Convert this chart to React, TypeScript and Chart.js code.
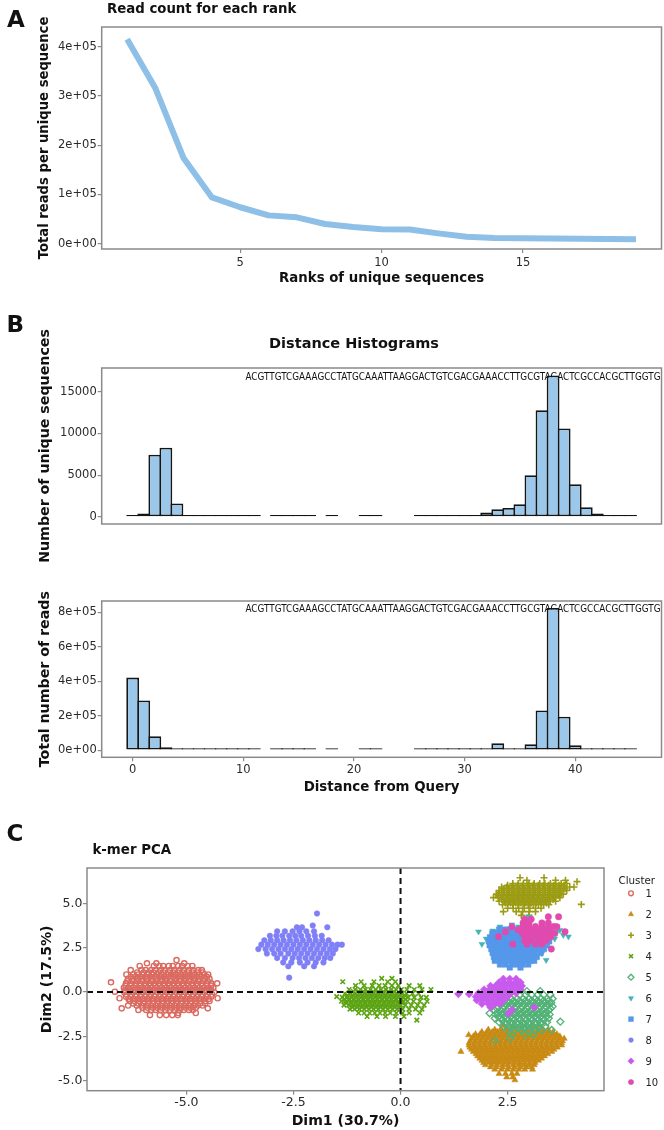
import React, { useEffect, useRef } from 'react';
import { Chart, registerables } from 'chart.js';
import { drawPoint } from 'chart.js/helpers';

Chart.register(...registerables);

const FONT = "'DejaVu Sans', Verdana, sans-serif";

// ---------------- Panel A data ----------------
const ranks = [1, 2, 3, 4, 5, 6, 7, 8, 9, 10, 11, 12, 13, 14, 15, 16, 17, 18, 19];
const readsPerRank = [415000, 315500, 173500, 94000, 74000, 57500, 53500, 40000, 34000, 29500, 29000, 21000, 14000, 11500, 11000, 10500, 10000, 9500, 9000];
const rankTicks = [5, 10, 15];
const readTickValues = [0, 100000, 200000, 300000, 400000];
const readTickLabels = ['0e+00', '1e+05', '2e+05', '3e+05', '4e+05'];

// ---------------- Panel B data ----------------
const distanceBins = [0, 1, 2, 3, 4, 5, 6, 7, 8, 9, 10, 11, 12, 13, 14, 15, 16, 17, 18, 19, 20, 21, 22, 23, 24, 25, 26, 27, 28, 29, 30, 31, 32, 33, 34, 35, 36, 37, 38, 39, 40, 41, 42, 43, 44, 45];
const uniqueSeqCounts: (number | null)[] = [
  1, 400, 7450, 8300, 1600, 200, 60, 30, 20, 10, 8, 5,
  null, 3, 2, 2, 1, null, 1, null, null, 1, 1, null, null, null,
  5, 10, 20, 40, 80, 200, 520, 920, 1080, 1520, 5000, 12800, 16950, 10600, 3920, 1160, 400, 150, 50, 20,
];
const totalReadCounts: (number | null)[] = [
  421000, 289000, 81000, 17000, 4000, 1500, 800, 500, 400, 300, 200, 100,
  null, 100, 100, 100, 100, null, 50, null, null, 50, 50, null, null, null,
  100, 200, 300, 500, 1000, 2000, 3000, 40000, 9000, 2500, 35000, 231000, 825000, 194000, 29000, 6000, 2000, 1000, 500, 300,
];
const distanceTicks = [0, 10, 20, 30, 40];
const uniqueTicks = [0, 5000, 10000, 15000];
const uniqueTickLabels = ['0', '5000', '10000', '15000'];
const readsTicks = [0, 200000, 400000, 600000, 800000];
const readsTickLabels = ['0e+00', '2e+05', '4e+05', '6e+05', '8e+05'];
const querySequence = 'ACGTTGTCGAAAGCCTATGCAAATTAAGGACTGTCGACGAAACCTTGCGTAGACTCGCCACGCTTGGTG';

// ---------------- Panel C data (rows: [Dim2, [Dim1 values]]) ----------------
type Rows = [number, number[]][];
const cluster1Rows: Rows = [
  [1.8, [-5.23]],
  [1.62, [-5.92, -5.7, -5.05]],
  [1.47, [-6.09, -5.76, -5.63, -5.54, -5.41, -5.32, -5.19, -5.1, -4.97, -4.86]],
  [1.24, [-6.3, -6.05, -5.95, -5.82, -5.73, -5.6, -5.51, -5.38, -5.29, -5.16, -5.07, -4.94, -4.85, -4.72, -4.64]],
  [1.1, [-6.15, -6.0, -5.88, -5.77, -5.64, -5.53, -5.42, -5.3, -5.2, -5.08, -4.97, -4.86, -4.75, -4.62]],
  [0.99, [-6.4, -6.24, -6.12, -6.03, -5.9, -5.81, -5.68, -5.59, -5.47, -5.35, -5.26, -5.13, -5.04, -4.91, -4.82, -4.69, -4.58, -4.49]],
  [0.86, [-6.3, -6.18, -6.07, -5.96, -5.85, -5.74, -5.62, -5.52, -5.41, -5.3, -5.19, -5.08, -4.97, -4.86, -4.75, -4.64, -4.52]],
  [0.74, [-6.36, -6.25, -6.13, -6.02, -5.92, -5.79, -5.7, -5.57, -5.48, -5.36, -5.24, -5.15, -5.02, -4.93, -4.8, -4.71, -4.58, -4.46]],
  [0.61, [-6.38, -6.26, -6.15, -6.04, -5.92, -5.82, -5.7, -5.6, -5.48, -5.38, -5.26, -5.16, -5.04, -4.94, -4.82, -4.72, -4.6, -4.5]],
  [0.55, [-6.76]],
  [0.49, [-6.41, -6.31, -6.18, -6.09, -5.96, -5.87, -5.74, -5.65, -5.52, -5.43, -5.3, -5.21, -5.08, -4.99, -4.86, -4.77, -4.64, -4.53, -4.42, -4.28]],
  [0.36, [-6.42, -6.29, -6.18, -6.07, -5.95, -5.84, -5.73, -5.62, -5.51, -5.4, -5.29, -5.18, -5.07, -4.96, -4.85, -4.74, -4.63, -4.52, -4.42]],
  [0.24, [-6.46, -6.35, -6.23, -6.13, -6.01, -5.91, -5.79, -5.69, -5.57, -5.47, -5.35, -5.25, -5.13, -5.03, -4.91, -4.81, -4.69, -4.59, -4.47, -4.37]],
  [0.11, [-6.43, -6.3, -6.19, -6.08, -5.96, -5.85, -5.74, -5.63, -5.52, -5.41, -5.3, -5.19, -5.08, -4.97, -4.86, -4.75, -4.64, -4.53, -4.42]],
  [0.02, [-6.67]],
  [-0.01, [-6.45, -6.33, -6.24, -6.11, -6.02, -5.89, -5.8, -5.67, -5.58, -5.45, -5.36, -5.23, -5.14, -5.01, -4.92, -4.79, -4.7, -4.57, -4.46, -4.35]],
  [-0.14, [-6.4, -6.28, -6.17, -6.06, -5.94, -5.83, -5.72, -5.61, -5.5, -5.39, -5.28, -5.17, -5.06, -4.95, -4.84, -4.73, -4.62, -4.51, -4.4]],
  [-0.26, [-6.41, -6.3, -6.18, -6.08, -5.96, -5.86, -5.74, -5.64, -5.52, -5.42, -5.3, -5.2, -5.08, -4.98, -4.86, -4.76, -4.64, -4.54, -4.42]],
  [-0.35, [-6.56, -4.27]],
  [-0.39, [-6.35, -6.24, -6.13, -6.02, -5.9, -5.8, -5.68, -5.58, -5.46, -5.36, -5.24, -5.14, -5.02, -4.92, -4.8, -4.7, -4.58, -4.48]],
  [-0.51, [-6.32, -6.21, -6.1, -5.99, -5.88, -5.77, -5.66, -5.55, -5.44, -5.33, -5.22, -5.11, -5.0, -4.89, -4.78, -4.67, -4.56, -4.46]],
  [-0.64, [-6.24, -6.12, -6.0, -5.89, -5.78, -5.67, -5.56, -5.45, -5.34, -5.23, -5.12, -5.01, -4.9, -4.79, -4.68, -4.56]],
  [-0.76, [-6.36, -6.16, -6.05, -5.93, -5.83, -5.71, -5.61, -5.49, -5.39, -5.27, -5.17, -5.05, -4.95, -4.83, -4.73, -4.62]],
  [-0.89, [-6.02, -5.9, -5.78, -5.67, -5.56, -5.45, -5.34, -5.23, -5.12, -5.01, -4.9, -4.78]],
  [-0.92, [-6.51, -4.5]],
  [-1.01, [-6.12, -5.94, -5.82, -5.72, -5.6, -5.5, -5.38, -5.28, -5.16, -5.06, -4.94, -4.85]],
  [-1.18, [-5.19, -4.78]],
  [-1.3, [-5.85, -5.62, -5.47, -5.33, -5.2]],
];
const cluster2Rows: Rows = [
  [-1.9, [2.4, 2.62, 2.85, 3.05, 3.22]],
  [-2.12, [2.05, 2.2, 2.33, 2.45, 2.58, 2.7, 2.83, 2.95, 3.08, 3.2, 3.33, 3.45]],
  [-2.25, [1.9, 2.02, 2.14, 2.26, 2.38, 2.5, 2.62, 2.74, 2.86, 2.98, 3.1, 3.22, 3.34, 3.46, 3.56]],
  [-2.37, [1.75, 1.86, 1.98, 2.1, 2.22, 2.34, 2.46, 2.58, 2.7, 2.82, 2.94, 3.06, 3.18, 3.3, 3.42, 3.54, 3.65]],
  [-2.42, [1.59]],
  [-2.5, [1.7, 1.82, 1.94, 2.06, 2.18, 2.3, 2.42, 2.54, 2.66, 2.78, 2.9, 3.02, 3.14, 3.26, 3.38, 3.5, 3.62, 3.72]],
  [-2.62, [1.66, 1.78, 1.9, 2.02, 2.14, 2.26, 2.38, 2.5, 2.62, 2.74, 2.86, 2.98, 3.1, 3.22, 3.34, 3.46, 3.58, 3.7, 3.82]],
  [-2.75, [1.63, 1.75, 1.87, 1.99, 2.11, 2.23, 2.35, 2.47, 2.59, 2.71, 2.83, 2.95, 3.07, 3.19, 3.31, 3.43, 3.55, 3.67, 3.78]],
  [-2.87, [1.6, 1.72, 1.84, 1.96, 2.08, 2.2, 2.32, 2.44, 2.56, 2.68, 2.8, 2.92, 3.04, 3.16, 3.28, 3.4, 3.52, 3.64, 3.76]],
  [-3.0, [1.6, 1.72, 1.84, 1.96, 2.08, 2.2, 2.32, 2.44, 2.56, 2.68, 2.8, 2.92, 3.04, 3.16, 3.28, 3.4, 3.52, 3.64, 3.76]],
  [-3.12, [1.62, 1.74, 1.86, 1.98, 2.1, 2.22, 2.34, 2.46, 2.58, 2.7, 2.82, 2.94, 3.06, 3.18, 3.3, 3.42, 3.54, 3.66]],
  [-3.24, [1.66, 1.78, 1.9, 2.02, 2.14, 2.26, 2.38, 2.5, 2.62, 2.74, 2.86, 2.98, 3.1, 3.22, 3.34, 3.46, 3.58]],
  [-3.36, [1.41, 1.7, 1.82, 1.94, 2.06, 2.18, 2.3, 2.42, 2.54, 2.66, 2.78, 2.9, 3.02, 3.14, 3.26, 3.38, 3.53]],
  [-3.49, [1.76, 1.88, 2.0, 2.12, 2.24, 2.36, 2.48, 2.6, 2.72, 2.84, 2.96, 3.08, 3.2, 3.32, 3.44]],
  [-3.61, [1.8, 1.92, 2.04, 2.16, 2.28, 2.4, 2.52, 2.64, 2.76, 2.88, 3.0, 3.12, 3.24, 3.36]],
  [-3.74, [1.85, 1.97, 2.09, 2.21, 2.33, 2.45, 2.57, 2.69, 2.81, 2.93, 3.05, 3.17, 3.29]],
  [-3.86, [1.9, 2.02, 2.14, 2.26, 2.38, 2.5, 2.62, 2.74, 2.86, 2.98, 3.1, 3.22]],
  [-3.98, [1.94, 2.06, 2.18, 2.3, 2.42, 2.54, 2.66, 2.78, 2.9, 3.02, 3.14]],
  [-4.11, [1.98, 2.12, 2.25, 2.38, 2.5, 2.63, 2.76, 2.88, 3.0, 3.12]],
  [-4.23, [2.1, 2.24, 2.38, 2.52, 2.66, 2.8, 2.94, 3.06]],
  [-4.36, [2.2, 2.36, 2.5, 2.63, 2.76, 2.9, 3.08]],
  [-4.6, [2.3, 2.45, 2.6, 2.72]],
  [-4.8, [2.48, 2.62]],
  [-4.96, [2.67]],
];
const cluster3Rows: Rows = [
  [6.44, [2.79, 3.35]],
  [6.3, [2.95, 3.62, 3.85]],
  [6.22, [4.12]],
  [6.12, [2.62, 2.75, 2.87, 3.0, 3.12, 3.25, 3.37, 3.5, 3.62, 3.75, 3.88]],
  [6.02, [2.5, 2.62, 2.74, 2.86, 2.98, 3.1, 3.22, 3.34, 3.46, 3.58, 3.7, 3.82]],
  [5.92, [2.36, 2.48, 2.6, 2.72, 2.84, 2.96, 3.08, 3.2, 3.32, 3.44, 3.56, 3.68, 3.8, 3.95, 4.05]],
  [5.82, [2.4, 2.52, 2.64, 2.76, 2.88, 3.0, 3.12, 3.24, 3.36, 3.48, 3.6, 3.72, 3.84]],
  [5.72, [2.3, 2.42, 2.54, 2.66, 2.78, 2.9, 3.02, 3.14, 3.26, 3.38, 3.5, 3.62, 3.74, 3.88]],
  [5.62, [2.3, 2.42, 2.54, 2.66, 2.78, 2.9, 3.02, 3.14, 3.26, 3.38, 3.5, 3.62, 3.74]],
  [5.52, [2.24, 2.36, 2.48, 2.6, 2.72, 2.84, 2.96, 3.08, 3.2, 3.32, 3.44, 3.56, 3.68, 3.8]],
  [5.42, [2.28, 2.4, 2.52, 2.64, 2.76, 2.88, 3.0, 3.12, 3.24, 3.36, 3.48, 3.6, 3.7]],
  [5.32, [2.17, 2.28, 2.4, 2.52, 2.64, 2.76, 2.88, 3.0, 3.12, 3.24, 3.36, 3.48, 3.6, 3.72]],
  [5.22, [2.36, 2.48, 2.6, 2.72, 2.84, 2.96, 3.08, 3.2, 3.32, 3.44, 3.56]],
  [5.12, [2.3, 2.42, 2.54, 2.66, 2.78, 2.9, 3.02, 3.14, 3.26, 3.38, 3.5, 3.62]],
  [5.02, [2.45, 2.57, 2.69, 2.81, 2.93, 3.05, 3.17, 3.29, 3.41]],
  [4.94, [4.22]],
  [4.92, [2.38, 2.5, 2.62, 2.74, 2.86, 2.98, 3.1, 3.22, 3.34, 3.46]],
  [4.72, [2.5, 2.63, 2.76, 2.89, 3.02, 3.15, 3.28]],
  [4.53, [2.4, 2.7, 2.85, 3.0, 3.15]],
  [4.32, [2.82, 3.0]],
];
const cluster4Rows: Rows = [
  [0.77, [-0.44, -0.2]],
  [0.58, [-1.35, -0.92, -0.62, -0.3, -0.12]],
  [0.36, [-1.05, -0.85, -0.66, -0.5, -0.36, -0.2, -0.05, 0.2, 0.45]],
  [0.14, [-1.2, -1.06, -0.94, -0.82, -0.7, -0.58, -0.46, -0.34, -0.22, -0.1, 0.02, 0.15, 0.32, 0.5, 0.71]],
  [0.03, [-1.1, -0.98, -0.87, -0.76, -0.64, -0.52, -0.4, -0.28, -0.16]],
  [-0.08, [-1.3, -1.18, -1.07, -0.96, -0.85, -0.74, -0.63, -0.52, -0.41, -0.3, -0.19, -0.08, 0.03, 0.14, 0.28, 0.42]],
  [-0.19, [-1.24, -1.12, -1.01, -0.9, -0.79, -0.68, -0.57, -0.46, -0.35, -0.24, -0.13, -0.02, 0.1]],
  [-0.26, [-1.49]],
  [-0.3, [-1.36, -1.25, -1.14, -1.03, -0.92, -0.81, -0.7, -0.59, -0.48, -0.37, -0.26, -0.15, -0.04, 0.07, 0.18, 0.32, 0.48, 0.6]],
  [-0.41, [-1.3, -1.19, -1.08, -0.97, -0.86, -0.75, -0.64, -0.53, -0.42, -0.31, -0.2, -0.09, 0.02, 0.12]],
  [-0.52, [-1.38, -1.27, -1.16, -1.05, -0.94, -0.83, -0.72, -0.61, -0.5, -0.39, -0.28, -0.17, -0.06, 0.05, 0.16, 0.3, 0.45, 0.62]],
  [-0.63, [-1.27, -1.16, -1.05, -0.94, -0.83, -0.72, -0.61, -0.5, -0.39, -0.28, -0.17, -0.06, 0.05]],
  [-0.74, [-1.32, -1.21, -1.1, -0.99, -0.88, -0.77, -0.66, -0.55, -0.44, -0.33, -0.22, -0.11, 0.0, 0.11, 0.25, 0.4, 0.55]],
  [-0.85, [-1.12, -1.01, -0.9, -0.79, -0.68, -0.57, -0.46, -0.35, -0.24, -0.13, -0.02]],
  [-0.96, [-1.18, -1.07, -0.96, -0.85, -0.74, -0.63, -0.52, -0.41, -0.3, -0.19, -0.08, 0.05, 0.2, 0.35, 0.5]],
  [-1.18, [-0.98, -0.85, -0.72, -0.6, -0.48, -0.36, -0.24, -0.1, 0.05, 0.2, 0.45]],
  [-1.38, [-0.78, -0.55, -0.35, -0.12, 0.08]],
  [-1.58, [0.38]],
];
const cluster5Rows: Rows = [
  [0.05, [2.95, 3.26]],
  [-0.16, [2.78, 2.92, 3.06, 3.2, 3.34, 3.5]],
  [-0.38, [2.58, 2.72, 2.86, 3.0, 3.14, 3.28, 3.42, 3.55]],
  [-0.49, [2.5, 2.64, 2.78, 2.92, 3.06, 3.2, 3.34, 3.46]],
  [-0.6, [2.4, 2.54, 2.68, 2.82, 2.96, 3.1, 3.24, 3.38, 3.52]],
  [-0.71, [2.34, 2.48, 2.62, 2.76, 2.9, 3.04, 3.18, 3.32, 3.46]],
  [-0.82, [2.28, 2.42, 2.56, 2.7, 2.84, 2.98, 3.12, 3.26, 3.4, 3.55]],
  [-0.93, [2.25, 2.39, 2.53, 2.67, 2.81, 2.95, 3.09, 3.23, 3.37, 3.5]],
  [-1.04, [2.2, 2.34, 2.48, 2.62, 2.76, 2.9, 3.04, 3.18, 3.32, 3.46]],
  [-1.15, [2.27, 2.41, 2.55, 2.69, 2.83, 2.97, 3.11, 3.25, 3.39]],
  [-1.2, [2.08]],
  [-1.26, [2.22, 2.36, 2.5, 2.64, 2.78, 2.92, 3.06, 3.2, 3.34, 3.48]],
  [-1.37, [2.29, 2.43, 2.57, 2.71, 2.85, 2.99, 3.13, 3.27, 3.41]],
  [-1.48, [2.2, 2.34, 2.48, 2.62, 2.76, 2.9, 3.04, 3.18, 3.32, 3.46]],
  [-1.59, [2.37, 2.51, 2.65, 2.79, 2.93, 3.07, 3.21, 3.35]],
  [-1.67, [3.73]],
  [-1.7, [2.3, 2.44, 2.58, 2.72, 2.86, 3.0, 3.14, 3.28, 3.42]],
  [-1.81, [2.47, 2.61, 2.75, 2.89, 3.03, 3.17, 3.31]],
  [-1.92, [2.4, 2.54, 2.68, 2.82, 2.96, 3.1, 3.24, 3.38]],
  [-2.03, [2.58, 2.74, 2.9, 3.06, 3.22]],
  [-2.14, [2.5, 2.66, 2.82, 2.98, 3.14, 3.3, 3.53]],
  [-2.4, [2.6, 2.91, 3.1]],
  [-2.61, [2.56]],
  [-2.74, [2.21]],
];
const cluster6Rows: Rows = [
  [4.24, [2.99]],
  [3.8, [2.6]],
  [3.68, [2.32, 2.75]],
  [3.55, [2.5]],
  [3.49, [3.72]],
  [3.45, [2.15, 3.3]],
  [3.4, [1.82, 2.2, 3.65]],
  [3.3, [3.5]],
  [3.21, [3.8]],
  [3.12, [2.09, 3.4, 3.92]],
  [3.0, [2.0, 3.6]],
  [2.85, [2.05]],
  [2.7, [1.9, 3.45]],
  [2.5, [3.5]],
  [2.4, [3.25]],
  [2.18, [3.3]],
  [1.9, [2.3]],
  [1.8, [3.4]],
];
const cluster7Rows: Rows = [
  [3.52, [2.3, 2.42, 2.55, 2.68, 2.8, 2.95]],
  [3.3, [2.14, 2.25, 2.36, 2.47, 2.58, 2.69, 2.8, 2.91, 3.02, 3.13, 3.26]],
  [3.08, [2.09, 2.2, 2.31, 2.42, 2.53, 2.64, 2.75, 2.86, 2.97, 3.08, 3.19, 3.3, 3.42]],
  [2.86, [2.06, 2.17, 2.28, 2.39, 2.5, 2.61, 2.72, 2.83, 2.94, 3.05, 3.16, 3.27, 3.38, 3.47]],
  [2.64, [2.08, 2.19, 2.3, 2.41, 2.52, 2.63, 2.74, 2.85, 2.96, 3.07, 3.18, 3.29, 3.4]],
  [2.42, [2.12, 2.23, 2.34, 2.45, 2.56, 2.67, 2.78, 2.89, 3.0, 3.11, 3.22, 3.35]],
  [2.2, [2.15, 2.26, 2.37, 2.48, 2.59, 2.7, 2.81, 2.92, 3.03, 3.14, 3.27]],
  [1.98, [2.18, 2.29, 2.4, 2.51, 2.62, 2.73, 2.84, 2.95, 3.06, 3.18]],
  [1.76, [2.2, 2.32, 2.44, 2.56, 2.68, 2.8, 2.92, 3.04, 3.12]],
  [1.55, [2.32, 2.45, 2.6, 2.72, 2.85, 2.98]],
  [1.38, [2.55, 2.8]],
];
const cluster8Rows: Rows = [
  [4.43, [-1.95]],
  [3.75, [-2.05]],
  [3.65, [-2.42, -2.3, -1.71]],
  [3.42, [-2.88, -2.7, -2.52, -2.36, -2.2, -2.02]],
  [3.17, [-3.05, -2.9, -2.76, -2.6, -2.46, -2.32, -2.16, -2.0, -1.84]],
  [2.92, [-3.18, -3.03, -2.88, -2.73, -2.58, -2.43, -2.28, -2.13, -1.98, -1.83, -1.68]],
  [2.67, [-3.25, -3.1, -2.95, -2.8, -2.65, -2.5, -2.35, -2.2, -2.05, -1.9, -1.75, -1.6, -1.47, -1.37]],
  [2.42, [-3.32, -3.15, -3.0, -2.85, -2.7, -2.55, -2.4, -2.25, -2.1, -1.95, -1.8, -1.65, -1.52]],
  [2.17, [-3.12, -2.95, -2.8, -2.62, -2.47, -2.32, -2.17, -2.02, -1.87, -1.72, -1.58]],
  [1.92, [-2.88, -2.7, -2.52, -2.37, -2.22, -2.07, -1.92, -1.77, -1.64]],
  [1.67, [-2.74, -2.55, -2.35, -2.17, -1.98, -1.8]],
  [1.45, [-2.62, -2.25, -2.02]],
  [0.81, [-2.6]],
];
const cluster9Rows: Rows = [
  [0.74, [2.4, 2.55, 2.7]],
  [0.54, [2.3, 2.42, 2.55, 2.68, 2.8]],
  [0.34, [2.1, 2.22, 2.35, 2.47, 2.6, 2.72, 2.83]],
  [0.14, [1.95, 2.08, 2.2, 2.32, 2.45, 2.58, 2.7, 2.8]],
  [-0.06, [1.82, 1.95, 2.07, 2.2, 2.32, 2.45, 2.58, 2.7]],
  [-0.11, [1.35, 1.6]],
  [-0.26, [1.76, 1.88, 2.0, 2.12, 2.25, 2.38, 2.5]],
  [-0.46, [1.78, 1.9, 2.02, 2.15, 2.28, 2.4]],
  [-0.66, [1.9, 2.05, 2.2, 2.32]],
  [-0.86, [2.1, 3.12]],
  [-1.0, [2.6]],
  [-1.2, [2.52]],
];
const cluster10Rows: Rows = [
  [4.24, [3.45, 3.69]],
  [4.1, [2.9, 3.05]],
  [3.9, [2.86, 3.0, 3.3, 3.45]],
  [3.7, [2.86, 3.0, 3.15, 3.3, 3.45, 3.58]],
  [3.68, [2.6, 3.65]],
  [3.5, [2.75, 2.9, 3.05, 3.2, 3.35, 3.5]],
  [3.4, [2.45, 3.84]],
  [3.3, [2.85, 3.0, 3.15, 3.3, 3.45, 3.6]],
  [3.12, [2.29]],
  [3.1, [2.9, 3.05, 3.2, 3.35, 3.5]],
  [2.9, [2.9, 3.05, 3.25, 3.4]],
  [2.7, [2.95, 3.15, 3.3]],
  [2.69, [2.62]],
  [2.42, [3.52]],
];
const clusterNames = ['1', '2', '3', '4', '5', '6', '7', '8', '9', '10'];
const clusterRows = [cluster1Rows, cluster2Rows, cluster3Rows, cluster4Rows, cluster5Rows, cluster6Rows, cluster7Rows, cluster8Rows, cluster9Rows, cluster10Rows];
const pcaXTicks = [-5, -2.5, 0, 2.5];
const pcaXTickLabels = ['-5.0', '-2.5', '0.0', '2.5'];
const pcaYTicks = [-5, -2.5, 0, 2.5, 5];
const pcaYTickLabels = ['-5.0', '-2.5', '0.0', '2.5', '5.0'];

// ---------------- styles ----------------
const clusterStyles = [
  { pointStyle: 'circle', color: '#DA6A60', fill: 'rgba(0,0,0,0)', radius: 2.6, border: 1.4, rotation: 0, legend: 2.4 },
  { pointStyle: 'triangle', color: '#C98A14', fill: '#C98A14', radius: 3.6, border: 0.5, rotation: 0, legend: 3 },
  { pointStyle: 'cross', color: '#9C9C14', fill: '#9C9C14', radius: 3.5, border: 1.6, rotation: 0, legend: 3 },
  { pointStyle: 'crossRot', color: '#5CA414', fill: '#5CA414', radius: 3.2, border: 1.6, rotation: 0, legend: 2.8 },
  { pointStyle: 'rectRot', color: '#52B277', fill: 'rgba(0,0,0,0)', radius: 3.5, border: 1.3, rotation: 0, legend: 3 },
  { pointStyle: 'triangle', color: '#45B3B5', fill: '#45B3B5', radius: 3.4, border: 0.5, rotation: 180, legend: 3 },
  { pointStyle: 'rect', color: '#5598EA', fill: '#5598EA', radius: 3.9, border: 0.5, rotation: 0, legend: 3.4 },
  { pointStyle: 'circle', color: '#8080F6', fill: '#8080F6', radius: 2.8, border: 0.5, rotation: 0, legend: 2.4 },
  { pointStyle: 'rectRot', color: '#C95AEE', fill: '#C95AEE', radius: 3.9, border: 0.5, rotation: 0, legend: 3.2 },
  { pointStyle: 'circle', color: '#E04AAE', fill: '#E04AAE', radius: 3.2, border: 0.5, rotation: 0, legend: 2.6 },
];

const TICK_COLOR = '#2b2b2b';
const TITLE_COLOR = '#111111';
const AXIS_GRAY = '#8a8a8a';

const axisGrid = { display: true, drawOnChartArea: false, drawTicks: true, tickLength: 4, color: AXIS_GRAY, lineWidth: 1.2 };

function fixedTicks(values: number[]) {
  return (scale: any) => {
    scale.ticks = values.map((v) => ({ value: v }));
  };
}

const boxPlugin = {
  id: 'panelBox',
  afterDraw(chart: any) {
    const { ctx, chartArea: a } = chart;
    ctx.save();
    ctx.strokeStyle = AXIS_GRAY;
    ctx.lineWidth = 1.5;
    ctx.strokeRect(a.left, a.top, a.right - a.left, a.bottom - a.top);
    ctx.restore();
  },
};

type FreeText = { text: string; x: number; y: number; size: number; bold?: boolean; align?: CanvasTextAlign };
function textPlugin(id: string, items: FreeText[]) {
  return {
    id,
    afterDraw(chart: any) {
      const ctx = chart.ctx;
      items.forEach((t) => {
        ctx.save();
        ctx.font = `${t.bold ? 'bold ' : ''}${t.size}px ${FONT}`;
        ctx.fillStyle = TITLE_COLOR;
        ctx.textAlign = t.align || 'left';
        ctx.textBaseline = 'alphabetic';
        ctx.fillText(t.text, t.x, t.y);
        ctx.restore();
      });
    },
  };
}

function sequencePlugin(id: string, text: string, width: number, dy: number) {
  return {
    id,
    beforeDatasetsDraw(chart: any) {
      const { ctx, chartArea } = chart;
      ctx.save();
      ctx.font = `10px ${FONT}`;
      const w = ctx.measureText(text).width;
      ctx.translate(chartArea.right - 1 - width, chartArea.top + dy);
      ctx.scale(width / w, 1);
      ctx.fillStyle = TITLE_COLOR;
      ctx.textBaseline = 'alphabetic';
      ctx.textAlign = 'left';
      ctx.fillText(text, 0, 0);
      ctx.restore();
    },
  };
}

const zeroLinesPlugin = {
  id: 'zeroLines',
  afterDatasetsDraw(chart: any) {
    const { ctx, chartArea: a, scales } = chart;
    const x0 = scales.x.getPixelForValue(0);
    const y0 = scales.y.getPixelForValue(0);
    ctx.save();
    ctx.strokeStyle = '#111';
    ctx.lineWidth = 2;
    ctx.setLineDash([6, 4]);
    ctx.beginPath();
    ctx.moveTo(x0, a.top);
    ctx.lineTo(x0, a.bottom);
    ctx.moveTo(a.left, y0);
    ctx.lineTo(a.right, y0);
    ctx.stroke();
    ctx.restore();
  },
};

const clusterLegendPlugin = {
  id: 'clusterLegend',
  afterDraw(chart: any) {
    const { ctx, chartArea } = chart;
    const x0 = chartArea.right;
    ctx.save();
    ctx.font = `10.3px ${FONT}`;
    ctx.fillStyle = '#222';
    ctx.textBaseline = 'alphabetic';
    ctx.textAlign = 'left';
    ctx.fillText('Cluster', x0 + 14.5, 74.3);
    chart.data.datasets.forEach((ds: any, i: number) => {
      const cy = 83.3 + i * 20.97;
      ctx.fillStyle = ds.pointBackgroundColor;
      ctx.strokeStyle = ds.pointBorderColor;
      ctx.lineWidth = ds.pointBorderWidth;
      drawPoint(ctx, { pointStyle: ds.pointStyle, rotation: ds.pointRotation, radius: clusterStyles[i].legend, borderWidth: ds.pointBorderWidth }, x0 + 27, cy);
      ctx.fillStyle = '#222';
      ctx.font = `10px ${FONT}`;
      ctx.fillText(ds.label, x0 + 41.5, cy + 3.6);
    });
    ctx.restore();
  },
};

function rowsToPoints(rows: Rows) {
  return rows.flatMap(([y, xs]) => xs.map((x) => ({ x, y })));
}

function barData(values: (number | null)[]) {
  return distanceBins.flatMap((d, i) => (values[i] === null ? [] : [{ x: d, y: values[i] as number }]));
}

const barStyle = {
  backgroundColor: '#9AC7EA',
  borderColor: '#151515',
  borderWidth: 1.8,
  borderSkipped: false,
  barPercentage: 1.16,
  categoryPercentage: 1,
  minBarLength: 2,
  grouped: false,
};

const baseOptions = {
  responsive: false,
  animation: false,
  events: [],
  plugins: { legend: { display: false }, tooltip: { enabled: false } },
};

function tickFont(size: number) {
  return { family: FONT, size };
}

export default function App() {
  const refA = useRef<HTMLCanvasElement>(null);
  const refB1 = useRef<HTMLCanvasElement>(null);
  const refB2 = useRef<HTMLCanvasElement>(null);
  const refC = useRef<HTMLCanvasElement>(null);

  useEffect(() => {
    Chart.defaults.font.family = FONT;
    const charts: Chart[] = [];

    // Panel A
    charts.push(
      new Chart(refA.current as HTMLCanvasElement, {
        type: 'line',
        data: {
          datasets: [
            {
              data: ranks.map((r, i) => ({ x: r, y: readsPerRank[i] })),
              borderColor: '#8DBFE7',
              borderWidth: 6,
              pointRadius: 0,
              tension: 0,
              borderJoinStyle: 'round',
              borderCapStyle: 'butt',
            },
          ],
        },
        options: {
          ...baseOptions,
          layout: { padding: { left: 0, top: 27, right: 2.5, bottom: 0 } },
          scales: {
            x: {
              type: 'linear',
              min: 0.1,
              max: 19.9,
              afterBuildTicks: fixedTicks(rankTicks),
              afterFit: (s: any) => { s.height = 41; },
              ticks: { font: tickFont(11.5), color: TICK_COLOR, padding: 3, maxRotation: 0, autoSkip: false },
              grid: axisGrid,
              border: { display: false },
              title: { display: true, text: 'Ranks of unique sequences', color: TITLE_COLOR, font: { family: FONT, size: 13.3, weight: 'bold' }, padding: { top: 0, bottom: 3 } },
            },
            y: {
              type: 'linear',
              min: -10760,
              max: 440000,
              afterBuildTicks: fixedTicks(readTickValues),
              afterFit: (s: any) => { s.width = 101.7; },
              ticks: { font: tickFont(11.5), color: TICK_COLOR, padding: 1, autoSkip: false, callback: (_v: any, i: number) => readTickLabels[i] },
              grid: axisGrid,
              border: { display: false },
              title: { display: true, text: 'Total reads per unique sequence', color: TITLE_COLOR, font: { family: FONT, size: 13.2, weight: 'bold' }, padding: { top: 37, bottom: 0 } },
            },
          },
        } as any,
        plugins: [
          boxPlugin,
          textPlugin('textA', [
            { text: 'A', x: 7, y: 26.5, size: 23, bold: true },
            { text: 'Read count for each rank', x: 107, y: 13, size: 13.3, bold: true },
          ]),
        ],
      } as any)
    );

    // Panel B top
    charts.push(
      new Chart(refB1.current as HTMLCanvasElement, {
        type: 'bar',
        data: { datasets: [{ data: barData(uniqueSeqCounts), ...barStyle }] },
        options: {
          ...baseOptions,
          layout: { padding: { left: 0, top: 68, right: 2.5, bottom: 46 } },
          scales: {
            x: { type: 'linear', min: -2.8, max: 47.8, offset: false, display: false },
            y: {
              type: 'linear',
              min: -850,
              max: 17850,
              afterBuildTicks: fixedTicks(uniqueTicks),
              afterFit: (s: any) => { s.width = 101.7; },
              ticks: { font: tickFont(11.5), color: TICK_COLOR, padding: 1, autoSkip: false, callback: (_v: any, i: number) => uniqueTickLabels[i] },
              grid: axisGrid,
              border: { display: false },
              title: { display: true, text: 'Number of unique sequences', color: TITLE_COLOR, font: { family: FONT, size: 14.2, weight: 'bold' }, padding: { top: 36.5, bottom: 0 } },
            },
          },
        } as any,
        plugins: [
          sequencePlugin('seqB1', querySequence, 415, 11.5),
          boxPlugin,
          textPlugin('textB', [
            { text: 'B', x: 6.5, y: 31.7, size: 23, bold: true },
            { text: 'Distance Histograms', x: 354, y: 47.7, size: 14.5, bold: true, align: 'center' },
          ]),
        ],
      } as any)
    );

    // Panel B bottom
    charts.push(
      new Chart(refB2.current as HTMLCanvasElement, {
        type: 'bar',
        data: { datasets: [{ data: barData(totalReadCounts), ...barStyle }] },
        options: {
          ...baseOptions,
          layout: { padding: { left: 0, top: 61, right: 2.5, bottom: 0 } },
          scales: {
            x: {
              type: 'linear',
              min: -2.8,
              max: 47.8,
              offset: false,
              afterBuildTicks: fixedTicks(distanceTicks),
              afterFit: (s: any) => { s.height = 42.7; },
              ticks: { font: tickFont(11.5), color: TICK_COLOR, padding: 2, maxRotation: 0, autoSkip: false },
              grid: { ...axisGrid, offset: false },
              border: { display: false },
              title: { display: true, text: 'Distance from Query', color: TITLE_COLOR, font: { family: FONT, size: 13.4, weight: 'bold' }, padding: { top: 0, bottom: 4 } },
            },
            y: {
              type: 'linear',
              min: -41200,
              max: 865500,
              afterBuildTicks: fixedTicks(readsTicks),
              afterFit: (s: any) => { s.width = 101.7; },
              ticks: { font: tickFont(11.5), color: TICK_COLOR, padding: 1, autoSkip: false, callback: (_v: any, i: number) => readsTickLabels[i] },
              grid: axisGrid,
              border: { display: false },
              title: { display: true, text: 'Total number of reads', color: TITLE_COLOR, font: { family: FONT, size: 14.2, weight: 'bold' }, padding: { top: 36.5, bottom: 0 } },
            },
          },
        } as any,
        plugins: [sequencePlugin('seqB2', querySequence, 415, 10.7), boxPlugin],
      } as any)
    );

    // Panel C
    charts.push(
      new Chart(refC.current as HTMLCanvasElement, {
        type: 'scatter',
        data: {
          datasets: clusterRows.map((rows, i) => {
            const st = clusterStyles[i];
            return {
              label: clusterNames[i],
              data: rowsToPoints(rows),
              pointStyle: st.pointStyle,
              pointRadius: st.radius,
              pointBackgroundColor: st.fill,
              pointBorderColor: st.color,
              pointBorderWidth: st.border,
              pointRotation: st.rotation,
              order: clusterNames.length - i,
            };
          }),
        },
        options: {
          ...baseOptions,
          layout: { padding: { left: 0, top: 58, right: 60, bottom: 0 } },
          scales: {
            x: {
              type: 'linear',
              min: -7.32,
              max: 4.75,
              afterBuildTicks: fixedTicks(pcaXTicks),
              afterFit: (s: any) => { s.height = 39.3; },
              ticks: { font: tickFont(12.5), color: TICK_COLOR, padding: 1, maxRotation: 0, autoSkip: false, callback: (_v: any, i: number) => pcaXTickLabels[i] },
              grid: axisGrid,
              border: { display: false },
              title: { display: true, text: 'Dim1 (30.7%)', color: TITLE_COLOR, font: { family: FONT, size: 14.1, weight: 'bold' }, padding: { top: 0, bottom: 0.5 } },
            },
            y: {
              type: 'linear',
              min: -5.56,
              max: 6.99,
              afterBuildTicks: fixedTicks(pcaYTicks),
              afterFit: (s: any) => { s.width = 87; },
              ticks: { font: tickFont(12.5), color: TICK_COLOR, padding: 0.5, autoSkip: false, callback: (_v: any, i: number) => pcaYTickLabels[i] },
              grid: axisGrid,
              border: { display: false },
              title: { display: true, text: 'Dim2 (17.5%)', color: TITLE_COLOR, font: { family: FONT, size: 14.1, weight: 'bold' }, padding: { top: 39, bottom: 0 } },
            },
          },
        } as any,
        plugins: [
          zeroLinesPlugin,
          boxPlugin,
          clusterLegendPlugin,
          textPlugin('textC', [
            { text: 'C', x: 6.5, y: 31, size: 23, bold: true },
            { text: 'k-mer PCA', x: 92.4, y: 44.3, size: 13.4, bold: true },
          ]),
        ],
      } as any)
    );

    return () => charts.forEach((c) => c.destroy());
  }, []);

  return (
    <div style={{ position: 'absolute', left: 0, top: 0, width: 664, height: 1130, background: '#ffffff', overflow: 'hidden' }}>
      <canvas ref={refA} width={664} height={290} style={{ position: 'absolute', left: 0, top: 0 }} />
      <canvas ref={refB1} width={664} height={270} style={{ position: 'absolute', left: 0, top: 300 }} />
      <canvas ref={refB2} width={664} height={260} style={{ position: 'absolute', left: 0, top: 540 }} />
      <canvas ref={refC} width={664} height={320} style={{ position: 'absolute', left: 0, top: 810 }} />
    </div>
  );
}
